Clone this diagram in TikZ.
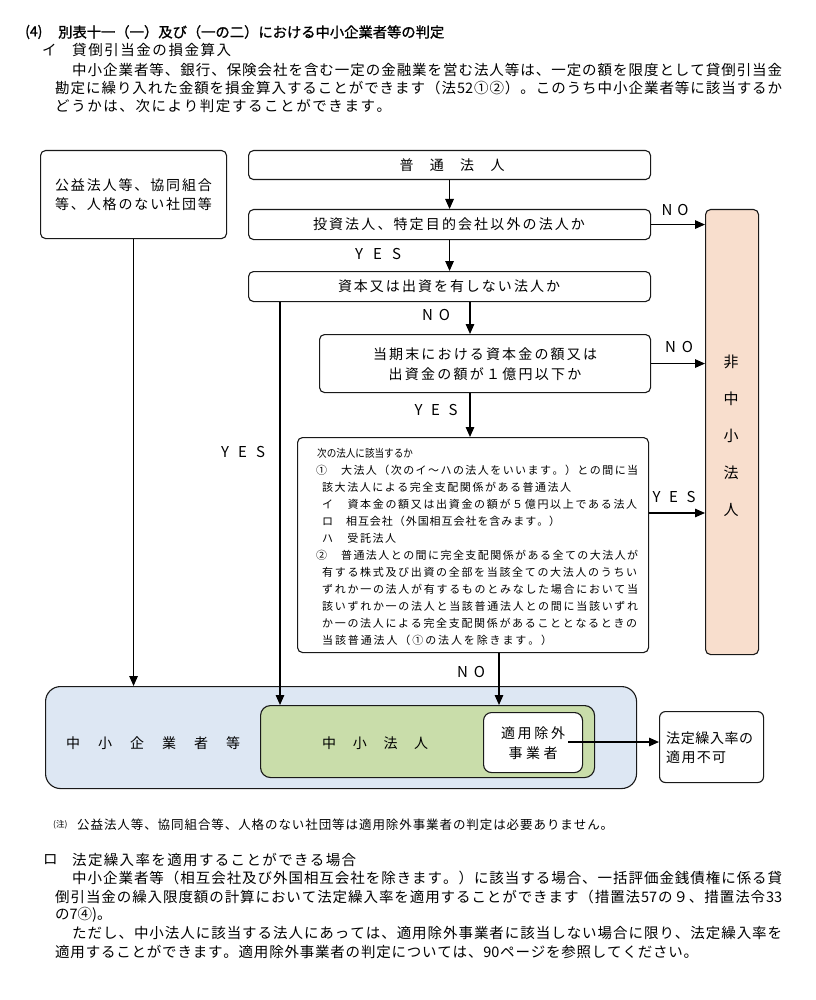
\documentclass[tikz,border=0pt]{standalone}
\usepackage{fontspec}
\setmainfont{Noto Sans CJK JP}
\newfontfamily\jpb[FakeBold=1.2]{Noto Sans CJK JP}
\usetikzlibrary{arrows.meta}
\definecolor{bluefill}{RGB}{221,231,243}
\definecolor{greenfill}{RGB}{201,221,170}
\definecolor{peachfill}{RGB}{248,222,205}
\makeatletter
\def\jl@end{\jl@end}
\def\jline#1#2{\hbox to #1{\jl@first#2\jl@end}}
\def\jl@first#1{#1\jl@loop}
\def\jl@loop#1{\ifx\jl@end#1\else\hfil#1\expandafter\jl@loop\fi}
\makeatother
\newcommand\fs[1]{\fontsize{#1}{#1}\selectfont}
\tikzset{
  box/.style={draw=black!90, line width=1.1pt, rounded corners=5pt, fill=white, inner sep=0pt, anchor=north west},
  conn/.style={line width=1.4pt, -{Triangle[length=10pt,width=8.5pt]}},
  t/.style={inner sep=0pt, anchor=west},
  tc/.style={inner sep=0pt, anchor=center},
  lab/.style={inner sep=0pt, anchor=center, font=\fs{15}},
}
\begin{document}
\begin{tikzpicture}[x=1pt,y=-1pt]
\useasboundingbox (0,0) rectangle (815,1000);
% ---- header text ----
\node[t, font=\jpb\fs{14}] (ttl0) at (25,32) {(4)};
\node[t, font=\jpb\fs{14.3}] (ttl) at (58,32) {別表十一（一）及び（一の二）における中小企業者等の判定};
\node[t, font=\fs{14.5}] (i0) at (42,50) {イ};
\node[t, font=\fs{14.5}] (i1) at (72,50) {\jline{159pt}{貸倒引当金の損金算入}};
\node[t, font=\fs{14.5}] (p1a) at (72,70) {\jline{710pt}{中小企業者等、銀行、保険会社を含む一定の金融業を営む法人等は、一定の額を限度として貸倒引当金}};
\node[t, font=\fs{14.5}] (p1b) at (55,88) {\jline{727pt}{勘定に繰り入れた金額を損金算入することができます（法{52}①②）。このうち中小企業者等に該当するか}};
\node[t, font=\fs{14.5}] (p1c) at (55,106) {\jline{336pt}{どうかは、次により判定することができます。}};
% ---- boxes ----
\node[box, minimum width=186pt, minimum height=88pt] (kouei) at (40,150) {};
\node[box, minimum width=402pt, minimum height=29pt] (futsu) at (248,150) {};
\node[box, minimum width=402pt, minimum height=30pt] (toushi) at (248,209) {};
\node[box, minimum width=402pt, minimum height=30pt] (shihon) at (248,271) {};
\node[box, minimum width=331pt, minimum height=58pt] (touki) at (319,334) {};
\node[box, minimum width=351pt, minimum height=215pt] (tsugi) at (297,437) {};
\node[box, fill=peachfill, minimum width=53pt, minimum height=445pt] (hichu) at (705,209) {};
\node[box, fill=bluefill, rounded corners=15pt, minimum width=591pt, minimum height=102pt] (blue) at (45,686) {};
\node[box, fill=greenfill, rounded corners=10pt, minimum width=334pt, minimum height=72pt] (green) at (260,705) {};
\node[box, rounded corners=8pt, minimum width=99pt, minimum height=60pt] (tekiyo) at (483,712) {};
\node[box, rounded corners=6pt, minimum width=104pt, minimum height=71pt] (houtei) at (659,711) {};
% ---- box texts ----
\node[tc, font=\fs{14}] (k1) at (133.5,185) {\jline{157pt}{公益法人等、協同組合}};
\node[tc, font=\fs{14}] (k2) at (133.5,204) {\jline{157pt}{等、人格のない社団等}};
\node[tc, font=\fs{14}] (f1) at (452,165) {\jline{105pt}{普通法人}};
\node[tc, font=\fs{14}] (ts1) at (449,224) {\jline{272pt}{投資法人、特定目的会社以外の法人か}};
\node[tc, font=\fs{14}] (sh1) at (449,286) {\jline{222pt}{資本又は出資を有しない法人か}};
\node[tc, font=\fs{14}] (tk1) at (485,354) {\jline{224pt}{当期末における資本金の額又は}};
\node[tc, font=\fs{14}] (tk2) at (485,374) {\jline{193pt}{出資金の額が１億円以下か}};
\node[t, font=\fs{11}] (n1) at (317,453) {\scalebox{0.87}[1]{次の法人に該当するか}};
\node[t, font=\fs{11}] (n2) at (316,470) {\jline{322pt}{①　大法人（次のイ～ハの法人をいいます。）との間に当}};
\node[t, font=\fs{11}] (n3) at (322,487) {\jline{249pt}{該大法人による完全支配関係がある普通法人}};
\node[t, font=\fs{11}] (n4) at (322,504) {\jline{315pt}{イ　資本金の額又は出資金の額が５億円以上である法人}};
\node[t, font=\fs{11}] (n5) at (322,521) {\jline{238pt}{ロ　相互会社（外国相互会社を含みます。）}};
\node[t, font=\fs{11}] (n6) at (322,538) {\jline{74pt}{ハ　受託法人}};
\node[t, font=\fs{11}] (n7) at (316,555) {\jline{322pt}{②　普通法人との間に完全支配関係がある全ての大法人が}};
\node[t, font=\fs{11}] (n8) at (322,572) {\jline{315pt}{有する株式及び出資の全部を当該全ての大法人のうちい}};
\node[t, font=\fs{11}] (n9) at (322,589) {\jline{316pt}{ずれか一の法人が有するものとみなした場合において当}};
\node[t, font=\fs{11}] (n10) at (322,606) {\jline{316pt}{該いずれか一の法人と当該普通法人との間に当該いずれ}};
\node[t, font=\fs{11}] (n11) at (322,623) {\jline{315pt}{か一の法人による完全支配関係があることとなるときの}};
\node[t, font=\fs{11}] (n12) at (322,640) {\jline{230pt}{当該普通法人（①の法人を除きます。）}};
\node[tc, font=\fs{15}] (h1) at (731,362) {非};
\node[tc, font=\fs{15}] (h2) at (731,399) {中};
\node[tc, font=\fs{15}] (h3) at (731,436) {小};
\node[tc, font=\fs{15}] (h4) at (731,473) {法};
\node[tc, font=\fs{15}] (h5) at (731,510) {人};
\node[t, font=\fs{14}] (b1) at (66,743) {\jline{174pt}{中小企業者等}};
\node[t, font=\fs{14}] (g1) at (322,743) {\jline{106pt}{中小法人}};
\node[tc, font=\fs{14}] (te1) at (533,733) {\jline{64pt}{適用除外}};
\node[tc, font=\fs{14}] (te2) at (533,753) {\jline{49pt}{事業者}};
\node[t, font=\fs{14}] (ho1) at (666,738) {\jline{87pt}{法定繰入率の}};
\node[t, font=\fs{14}] (ho2) at (666,757) {\jline{60pt}{適用不可}};
% ---- labels ----
\node[lab] (l1) at (378,254) {\jline{46pt}{YES}};
\node[lab] (l2) at (675,210) {\jline{27pt}{NO}};
\node[lab] (l3) at (436,315) {\jline{28pt}{NO}};
\node[lab] (l4) at (679,347) {\jline{28pt}{NO}};
\node[lab] (l5) at (436,410) {\jline{43pt}{YES}};
\node[lab] (l6) at (674,497) {\jline{43pt}{YES}};
\node[lab] (l7) at (243,452) {\jline{44pt}{YES}};
\node[lab] (l8) at (471,672) {\jline{28pt}{NO}};
% ---- connectors ----
\coordinate (cx1) at (470,0);
\coordinate (cx2) at (499,0);
\coordinate (cx3) at (280,0);
\coordinate (cy1) at (0,513);
\coordinate (tstart) at (568,742);
\draw[conn] (futsu) -- (toushi);
\draw[conn] (toushi) -- (shihon);
\draw[conn] (toushi.east) -- (toushi.east -| hichu.west);
\draw[conn] (cx1 |- shihon.south) -- (cx1 |- touki.north);
\draw[conn] (touki.east) -- (touki.east -| hichu.west);
\draw[conn] (cx1 |- touki.south) -- (cx1 |- tsugi.north);
\draw[conn] (cy1 -| tsugi.east) -- (cy1 -| hichu.west);
\draw[conn] (cx2 |- tsugi.south) -- (cx2 |- green.north);
\draw[conn] (cx3 |- shihon.south) -- (cx3 |- green.north);
\draw[conn] (kouei.south) -- (kouei.south |- blue.north);
\draw[conn] (tstart) -- (tstart -| houtei.west);
% ---- bottom text ----
\node[t, font=\fs{8.5}] (chu) at (53,825) {(注)};
\node[t, font=\fs{12.5}] (fn) at (77,825) {\jline{536pt}{公益法人等、協同組合等、人格のない社団等は適用除外事業者の判定は必要ありません。}};
\node[t, font=\fs{14.5}] (r0) at (43,860) {ロ};
\node[t, font=\fs{14.5}] (r1) at (72,860) {\jline{284pt}{法定繰入率を適用することができる場合}};
\node[t, font=\fs{14.5}] (q1) at (72,878) {\jline{710pt}{中小企業者等（相互会社及び外国相互会社を除きます。）に該当する場合、一括評価金銭債権に係る貸}};
\node[t, font=\fs{14.5}] (q2) at (55,897) {\jline{727pt}{倒引当金の繰入限度額の計算において法定繰入率を適用することができます（措置法{57}の９、措置法令{33}}};
\node[t, font=\fs{14.5}] (q3) at (55,915) {の7④)。};
\node[t, font=\fs{14.5}] (q4) at (72,933) {\jline{710pt}{ただし、中小法人に該当する法人にあっては、適用除外事業者に該当しない場合に限り、法定繰入率を}};
\node[t, font=\fs{14.5}] (q5) at (55,952) {\jline{643pt}{適用することができます。適用除外事業者の判定については、{90}ページを参照してください。}};
\end{tikzpicture}
\end{document}
